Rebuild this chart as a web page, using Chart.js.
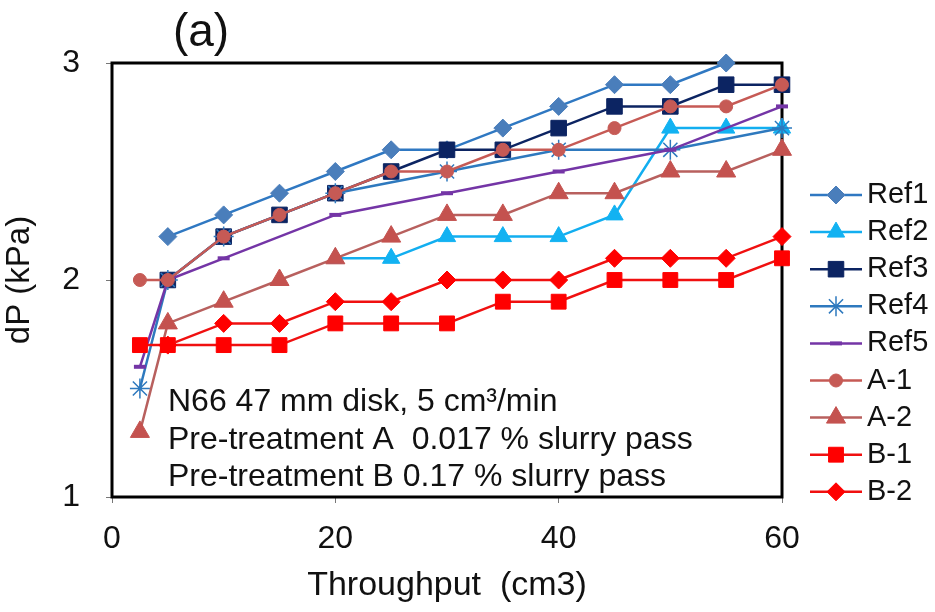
<!DOCTYPE html>
<html>
<head>
<meta charset="utf-8">
<script src="https://cdn.jsdelivr.net/npm/chart.js@4"></script>
<style>
  html, body { margin: 0; padding: 0; background: #fff; }
</style>
</head>
<body>
<canvas id="graph" width="935" height="612"></canvas>
<script>

// throughput (cm3) and dP (kPa)
var ref1X = [5, 10, 15, 20, 25, 30, 35, 40, 45, 50, 55];
var ref1Y = [2.2, 2.3, 2.4, 2.5, 2.6, 2.6, 2.7, 2.8, 2.9, 2.9, 3.0];

var ref2X = [20, 25, 30, 35, 40, 45, 50, 55, 60];
var ref2Y = [2.1, 2.1, 2.2, 2.2, 2.2, 2.3, 2.7, 2.7, 2.7];

var ref3X = [5, 10, 15, 20, 25, 30, 35, 40, 45, 50, 55, 60];
var ref3Y = [2.0, 2.2, 2.3, 2.4, 2.5, 2.6, 2.6, 2.7, 2.8, 2.8, 2.9, 2.9];

var ref4X = [2.5, 5, 10, 20, 30, 40, 50, 60];
var ref4Y = [1.5, 2.0, 2.2, 2.4, 2.5, 2.6, 2.6, 2.7];

var ref5X = [2.5, 5, 10, 20, 30, 40, 50, 60];
var ref5Y = [1.6, 2.0, 2.1, 2.3, 2.4, 2.5, 2.6, 2.8];

var fullX = [2.5, 5, 10, 15, 20, 25, 30, 35, 40, 45, 50, 55, 60];
var a1Y = [2.0, 2.0, 2.2, 2.3, 2.4, 2.5, 2.5, 2.6, 2.6, 2.7, 2.8, 2.8, 2.9];
var a2Y = [1.3, 1.8, 1.9, 2.0, 2.1, 2.2, 2.3, 2.3, 2.4, 2.4, 2.5, 2.5, 2.6];
var b1Y = [1.7, 1.7, 1.7, 1.7, 1.8, 1.8, 1.8, 1.9, 1.9, 2.0, 2.0, 2.0, 2.1];

var b2X = [5, 10, 15, 20, 25, 30, 35, 40, 45, 50, 55, 60];
var b2Y = [1.7, 1.8, 1.8, 1.9, 1.9, 2.0, 2.0, 2.0, 2.1, 2.1, 2.1, 2.2];

var xTicks = [0, 20, 40, 60];
var yTicks = [1, 2, 3];

var noteLines = [
  'N66 47 mm disk, 5 cm\u00b3/min',
  'Pre-treatment A  0.017 % slurry pass',
  'Pre-treatment B 0.17 % slurry pass'
];

var fontName = '"Liberation Sans", Arial, sans-serif';
var inkColor = '#111';

function makeSet(label, xs, ys, lineColor, markColor, style, radius, markWidth, order) {
  return {
    label: label,
    data: xs.map(function(x, i) { return { x: x, y: ys[i] }; }),
    showLine: true,
    borderColor: lineColor,
    backgroundColor: markColor,
    borderWidth: 2.5,
    pointStyle: style,
    pointRadius: radius,
    pointHoverRadius: radius,
    pointBackgroundColor: markColor,
    pointBorderColor: markColor,
    pointBorderWidth: markWidth,
    clip: false,
    order: order
  };
}

// later series sit on top, like the original spreadsheet chart
var datasets = [
  makeSet('Ref1', ref1X, ref1Y, '#2f78c2', '#4a7ebb', 'rectRot', 9, 1, 9),
  makeSet('Ref2', ref2X, ref2Y, '#12aef0', '#12b2f2', 'triangle', 10, 1, 8),
  makeSet('Ref3', ref3X, ref3Y, '#0c2462', '#0c2462', 'rect', 11, 1, 7),
  makeSet('Ref4', ref4X, ref4Y, '#2e79be', '#2e79be', 'star', 10, 1.5, 6),
  makeSet('Ref5', ref5X, ref5Y, '#7435a6', '#7435a6', 'line', 6, 4, 5),
  makeSet('A-1', fullX, a1Y, '#c65a55', '#c65a55', 'circle', 6.5, 1, 4),
  makeSet('A-2', fullX, a2Y, '#b8605e', '#c4524f', 'triangle', 11, 1, 3),
  makeSet('B-1', fullX, b1Y, '#f01010', '#ff0000', 'rect', 10.5, 1, 2),
  makeSet('B-2', b2X, b2Y, '#f01010', '#ff0000', 'rectRot', 9, 1, 1)
];

var framePlugin = {
  id: 'frame',
  beforeDatasetsDraw: function(chart) {
    var a = chart.chartArea;
    var ctx = chart.ctx;
    ctx.save();
    ctx.strokeStyle = '#000';
    ctx.lineWidth = 3;
    ctx.strokeRect(a.left, a.top, a.right - a.left, a.bottom - a.top);
    ctx.restore();
  }
};

var textPlugin = {
  id: 'texts',
  afterDraw: function(chart) {
    var ctx = chart.ctx;
    ctx.save();
    ctx.fillStyle = inkColor;
    ctx.textAlign = 'center';
    ctx.textBaseline = 'middle';
    ctx.font = '46px ' + fontName;
    ctx.fillText('(a)', 201, 33);

    ctx.textAlign = 'left';
    ctx.textBaseline = 'alphabetic';
    ctx.font = '32px ' + fontName;
    noteLines.forEach(function(t, i) {
      ctx.fillText(t, 168, 411 + i * 37.5);
    });
    ctx.restore();
  }
};

var legendPlugin = {
  id: 'sideLegend',
  afterDraw: function(chart) {
    var ctx = chart.ctx;
    chart.data.datasets.forEach(function(ds, i) {
      var y = 195 + i * 37.1;
      ctx.save();
      ctx.strokeStyle = ds.borderColor;
      ctx.lineWidth = ds.borderWidth;
      ctx.beginPath();
      ctx.moveTo(810, y);
      ctx.lineTo(862, y);
      ctx.stroke();
      ctx.fillStyle = ds.pointBackgroundColor;
      ctx.strokeStyle = ds.pointBorderColor;
      ctx.lineWidth = ds.pointBorderWidth;
      Chart.helpers.drawPoint(ctx, {
        pointStyle: ds.pointStyle,
        radius: ds.pointRadius,
        borderWidth: ds.pointBorderWidth,
        rotation: 0
      }, 836, y);
      ctx.fillStyle = inkColor;
      ctx.font = '29px ' + fontName;
      ctx.textAlign = 'left';
      ctx.textBaseline = 'middle';
      ctx.fillText(ds.label, 867, y);
      ctx.restore();
    });
  }
};

var ctx = document.getElementById('graph');

var chart = new Chart(ctx.getContext('2d'), {
  type: 'scatter',
  data: { datasets: datasets },
  options: {
    responsive: false,
    animation: false,
    layout: { padding: { left: 0, right: 153, top: 63, bottom: 0 } },
    plugins: {
      legend: { display: false },
      tooltip: { enabled: false }
    },
    scales: {
      x: {
        type: 'linear',
        min: 0,
        max: 60,
        afterBuildTicks: function(s) { s.ticks = xTicks.map(function(v) { return { value: v }; }); },
        afterFit: function(s) { s.height = 115; },
        ticks: { color: inkColor, font: { family: fontName, size: 32 }, padding: 17 },
        grid: { drawOnChartArea: false, tickLength: 6, color: '#777' },
        border: { color: '#000', width: 2 },
        title: {
          display: true,
          text: 'Throughput  (cm3)',
          color: inkColor,
          font: { family: fontName, size: 34 },
          padding: { top: 0, bottom: 6 }
        }
      },
      y: {
        type: 'linear',
        min: 1,
        max: 3,
        afterBuildTicks: function(s) { s.ticks = yTicks.map(function(v) { return { value: v }; }); },
        afterFit: function(s) { s.width = 112; },
        ticks: { color: inkColor, font: { family: fontName, size: 32 }, padding: 26 },
        grid: { drawOnChartArea: false, tickLength: 6, color: '#777' },
        border: { color: '#000', width: 2 },
        title: {
          display: true,
          text: 'dP (kPa)',
          color: inkColor,
          font: { family: fontName, size: 33 },
          padding: { top: 0, bottom: 0 }
        }
      }
    }
  },
  plugins: [framePlugin, textPlugin, legendPlugin]
});
</script>
</body>
</html>
